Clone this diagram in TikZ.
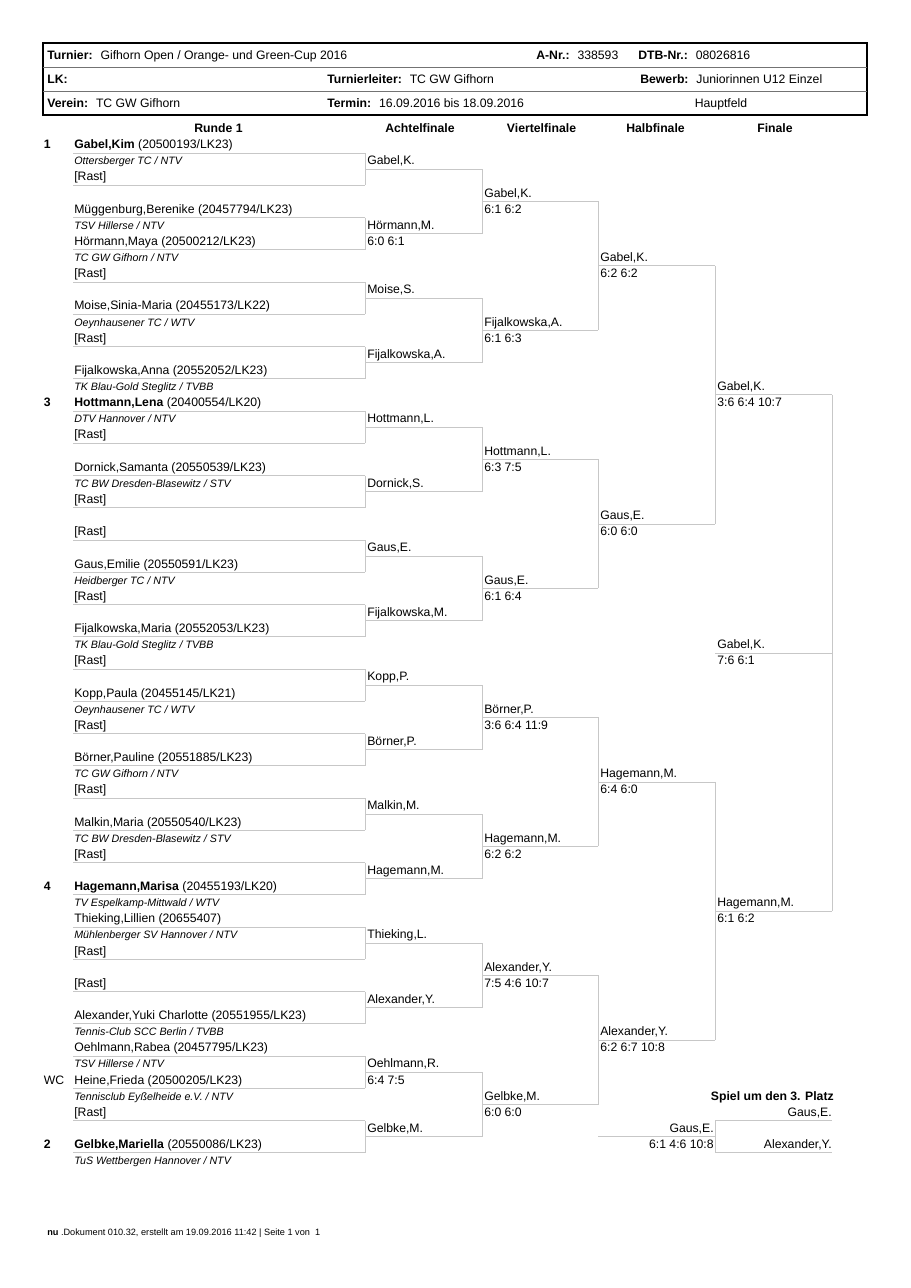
\documentclass[tikz,border=0pt]{standalone}
\usepackage{fontspec}
\setmainfont{Liberation Sans}
\usepackage{tikz}

\newcommand{\rowb}[1]{148.7+16.127*#1} % baseline of a row
\newcommand{\rowl}[1]{153+16.127*#1}   % rule under a row

\begin{document}
\begin{tikzpicture}[x=0.65415pt, y=-0.65415pt,
    hd/.style={anchor=base west, inner sep=0pt, font=\fontsize{8}{9.6}\selectfont},
    colhead/.style={anchor=base, inner sep=0pt, font=\fontsize{8}{9.6}\selectfont\bfseries},
    player/.style={anchor=base west, inner sep=0pt, font=\fontsize{8}{9.6}\selectfont},
    club/.style={anchor=base west, inner sep=0pt, font=\fontsize{7}{8.4}\selectfont\itshape},
    seed/.style={anchor=base west, inner sep=0pt, font=\fontsize{8}{9.6}\selectfont},
    rplayer/.style={anchor=base east, inner sep=0pt, font=\fontsize{8}{9.6}\selectfont},
    rule/.style={draw=black!22, line width=0.55pt},
    frame/.style={draw=black, line width=0.9pt},
    sep/.style={draw=black!55, line width=0.5pt},
]
\useasboundingbox (0,0) rectangle (910,1288);

% === HEADER ===
\draw[frame] (43,43) rectangle (867,115);
\draw[sep] (43,67) -- (867,67);
\draw[sep] (43,91) -- (867,91);

\node[hd] (turnier) at (47,59)  {\textbf{Turnier:}~ Gifhorn Open / Orange- und Green-Cup 2016};
\node[hd] (anr)     at (536,59) {\textbf{A-Nr.:}~ 338593};
\node[hd] (dtb)     at (638,59) {\textbf{DTB-Nr.:}~ 08026816};
\node[hd] (lk)      at (47,83)  {\textbf{LK:}};
\node[hd] (leiter)  at (327,83) {\textbf{Turnierleiter:}~ TC GW Gifhorn};
\node[hd] (bewerb)  at (640,83) {\textbf{Bewerb:}~ Juniorinnen U12 Einzel};
\node[hd] (verein)  at (47,107) {\textbf{Verein:}~ TC GW Gifhorn};
\node[hd] (termin)  at (327,107) {\textbf{Termin:}~ 16.09.2016 bis 18.09.2016};
\node[hd, anchor=base] (feld) at (721,107) {Hauptfeld};

% === ROUND HEADINGS ===
\node[colhead] (h0) at (218.5,132) {Runde 1};
\node[colhead] (h1) at (420,132)   {Achtelfinale};
\node[colhead] (h2) at (541.5,132) {Viertelfinale};
\node[colhead] (h3) at (655.5,132) {Halbfinale};
\node[colhead] (h4) at (775,132)   {Finale};

% === SEEDS ===
\node[seed] (s1)  at (43.5,{\rowb{0}})  {\textbf{1}};
\node[seed] (s3)  at (43.5,{\rowb{16}}) {\textbf{3}};
\node[seed] (s4)  at (43.5,{\rowb{46}}) {\textbf{4}};
\node[seed] (swc) at (43.5,{\rowb{58}}) {WC};
\node[seed] (s2)  at (43.5,{\rowb{62}}) {\textbf{2}};

% === RUNDE 1 ===
\node[player] (p0)  at (74,{\rowb{0}})  {\textbf{Gabel,Kim} (20500193/LK23)};
\node[club]   (c0)  at (74,{\rowb{1}})  {Ottersberger TC / NTV};
\node[player] (p1)  at (74,{\rowb{2}})  {[Rast]};
\node[player] (p2)  at (74,{\rowb{4}})  {Müggenburg,Berenike (20457794/LK23)};
\node[club]   (c2)  at (74,{\rowb{5}})  {TSV Hillerse / NTV};
\node[player] (p3)  at (74,{\rowb{6}})  {Hörmann,Maya (20500212/LK23)};
\node[club]   (c3)  at (74,{\rowb{7}})  {TC GW Gifhorn / NTV};
\node[player] (p4)  at (74,{\rowb{8}})  {[Rast]};
\node[player] (p5)  at (74,{\rowb{10}}) {Moise,Sinia-Maria (20455173/LK22)};
\node[club]   (c5)  at (74,{\rowb{11}}) {Oeynhausener TC / WTV};
\node[player] (p6)  at (74,{\rowb{12}}) {[Rast]};
\node[player] (p7)  at (74,{\rowb{14}}) {Fijalkowska,Anna (20552052/LK23)};
\node[club]   (c7)  at (74,{\rowb{15}}) {TK Blau-Gold Steglitz / TVBB};
\node[player] (p8)  at (74,{\rowb{16}}) {\textbf{Hottmann,Lena} (20400554/LK20)};
\node[club]   (c8)  at (74,{\rowb{17}}) {DTV Hannover / NTV};
\node[player] (p9)  at (74,{\rowb{18}}) {[Rast]};
\node[player] (p10) at (74,{\rowb{20}}) {Dornick,Samanta (20550539/LK23)};
\node[club]   (c10) at (74,{\rowb{21}}) {TC BW Dresden-Blasewitz / STV};
\node[player] (p11) at (74,{\rowb{22}}) {[Rast]};
\node[player] (p12) at (74,{\rowb{24}}) {[Rast]};
\node[player] (p13) at (74,{\rowb{26}}) {Gaus,Emilie (20550591/LK23)};
\node[club]   (c13) at (74,{\rowb{27}}) {Heidberger TC / NTV};
\node[player] (p14) at (74,{\rowb{28}}) {[Rast]};
\node[player] (p15) at (74,{\rowb{30}}) {Fijalkowska,Maria (20552053/LK23)};
\node[club]   (c15) at (74,{\rowb{31}}) {TK Blau-Gold Steglitz / TVBB};
\node[player] (p16) at (74,{\rowb{32}}) {[Rast]};
\node[player] (p17) at (74,{\rowb{34}}) {Kopp,Paula (20455145/LK21)};
\node[club]   (c17) at (74,{\rowb{35}}) {Oeynhausener TC / WTV};
\node[player] (p18) at (74,{\rowb{36}}) {[Rast]};
\node[player] (p19) at (74,{\rowb{38}}) {Börner,Pauline (20551885/LK23)};
\node[club]   (c19) at (74,{\rowb{39}}) {TC GW Gifhorn / NTV};
\node[player] (p20) at (74,{\rowb{40}}) {[Rast]};
\node[player] (p21) at (74,{\rowb{42}}) {Malkin,Maria (20550540/LK23)};
\node[club]   (c21) at (74,{\rowb{43}}) {TC BW Dresden-Blasewitz / STV};
\node[player] (p22) at (74,{\rowb{44}}) {[Rast]};
\node[player] (p23) at (74,{\rowb{46}}) {\textbf{Hagemann,Marisa} (20455193/LK20)};
\node[club]   (c23) at (74,{\rowb{47}}) {TV Espelkamp-Mittwald / WTV};
\node[player] (p24) at (74,{\rowb{48}}) {Thieking,Lillien (20655407)};
\node[club]   (c24) at (74,{\rowb{49}}) {Mühlenberger SV Hannover / NTV};
\node[player] (p25) at (74,{\rowb{50}}) {[Rast]};
\node[player] (p26) at (74,{\rowb{52}}) {[Rast]};
\node[player] (p27) at (74,{\rowb{54}}) {Alexander,Yuki Charlotte (20551955/LK23)};
\node[club]   (c27) at (74,{\rowb{55}}) {Tennis-Club SCC Berlin / TVBB};
\node[player] (p28) at (74,{\rowb{56}}) {Oehlmann,Rabea (20457795/LK23)};
\node[club]   (c28) at (74,{\rowb{57}}) {TSV Hillerse / NTV};
\node[player] (p29) at (74,{\rowb{58}}) {Heine,Frieda (20500205/LK23)};
\node[club]   (c29) at (74,{\rowb{59}}) {Tennisclub Eyßelheide e.V. / NTV};
\node[player] (p30) at (74,{\rowb{60}}) {[Rast]};
\node[player] (p31) at (74,{\rowb{62}}) {\textbf{Gelbke,Mariella} (20550086/LK23)};
\node[club]   (c31) at (74,{\rowb{63}}) {TuS Wettbergen Hannover / NTV};

% === ACHTELFINALE ===
\node[player] (af0)  at (367,{\rowb{1}})  {Gabel,K.};
\node[player] (af1)  at (367,{\rowb{5}})  {Hörmann,M.};
\node[player] (af1s) at (367,{\rowb{6}})  {6:0 6:1};
\node[player] (af2)  at (367,{\rowb{9}})  {Moise,S.};
\node[player] (af3)  at (367,{\rowb{13}}) {Fijalkowska,A.};
\node[player] (af4)  at (367,{\rowb{17}}) {Hottmann,L.};
\node[player] (af5)  at (367,{\rowb{21}}) {Dornick,S.};
\node[player] (af6)  at (367,{\rowb{25}}) {Gaus,E.};
\node[player] (af7)  at (367,{\rowb{29}}) {Fijalkowska,M.};
\node[player] (af8)  at (367,{\rowb{33}}) {Kopp,P.};
\node[player] (af9)  at (367,{\rowb{37}}) {Börner,P.};
\node[player] (af10) at (367,{\rowb{41}}) {Malkin,M.};
\node[player] (af11) at (367,{\rowb{45}}) {Hagemann,M.};
\node[player] (af12) at (367,{\rowb{49}}) {Thieking,L.};
\node[player] (af13) at (367,{\rowb{53}}) {Alexander,Y.};
\node[player] (af14) at (367,{\rowb{57}}) {Oehlmann,R.};
\node[player] (af14s) at (367,{\rowb{58}}) {6:4 7:5};
\node[player] (af15) at (367,{\rowb{61}}) {Gelbke,M.};

% === VIERTELFINALE ===
\node[player] (vf0)  at (484,{\rowb{3}})  {Gabel,K.};
\node[player] (vf0s) at (484,{\rowb{4}})  {6:1 6:2};
\node[player] (vf1)  at (484,{\rowb{11}}) {Fijalkowska,A.};
\node[player] (vf1s) at (484,{\rowb{12}}) {6:1 6:3};
\node[player] (vf2)  at (484,{\rowb{19}}) {Hottmann,L.};
\node[player] (vf2s) at (484,{\rowb{20}}) {6:3 7:5};
\node[player] (vf3)  at (484,{\rowb{27}}) {Gaus,E.};
\node[player] (vf3s) at (484,{\rowb{28}}) {6:1 6:4};
\node[player] (vf4)  at (484,{\rowb{35}}) {Börner,P.};
\node[player] (vf4s) at (484,{\rowb{36}}) {3:6 6:4 11:9};
\node[player] (vf5)  at (484,{\rowb{43}}) {Hagemann,M.};
\node[player] (vf5s) at (484,{\rowb{44}}) {6:2 6:2};
\node[player] (vf6)  at (484,{\rowb{51}}) {Alexander,Y.};
\node[player] (vf6s) at (484,{\rowb{52}}) {7:5 4:6 10:7};
\node[player] (vf7)  at (484,{\rowb{59}}) {Gelbke,M.};
\node[player] (vf7s) at (484,{\rowb{60}}) {6:0 6:0};

% === HALBFINALE ===
\node[player] (hf0)  at (600,{\rowb{7}})  {Gabel,K.};
\node[player] (hf0s) at (600,{\rowb{8}})  {6:2 6:2};
\node[player] (hf1)  at (600,{\rowb{23}}) {Gaus,E.};
\node[player] (hf1s) at (600,{\rowb{24}}) {6:0 6:0};
\node[player] (hf2)  at (600,{\rowb{39}}) {Hagemann,M.};
\node[player] (hf2s) at (600,{\rowb{40}}) {6:4 6:0};
\node[player] (hf3)  at (600,{\rowb{55}}) {Alexander,Y.};
\node[player] (hf3s) at (600,{\rowb{56}}) {6:2 6:7 10:8};

% === FINALE ===
\node[player] (f0)  at (717,{\rowb{15}}) {Gabel,K.};
\node[player] (f0s) at (717,{\rowb{16}}) {3:6 6:4 10:7};
\node[player] (f1)  at (717,{\rowb{47}}) {Hagemann,M.};
\node[player] (f1s) at (717,{\rowb{48}}) {6:1 6:2};
\node[player] (win)  at (717,{\rowb{31}}) {Gabel,K.};
\node[player] (wins) at (717,{\rowb{32}}) {7:6 6:1};

% === BRACKET RULES ===
\foreach \k in {0,...,31}{
    \coordinate (a0-\k) at (73,{\rowl{2*\k}});
    \coordinate (b0-\k) at (365,{\rowl{2*\k}});
    \draw[rule] (a0-\k) -- (b0-\k);
}
\foreach \L/\xa/\xb/\n in {1/365/482/15, 2/482/598/7, 3/598/715/3, 4/715/832/1}{
    \foreach \j in {0,...,\n}{
        \pgfmathtruncatemacro\r{2^(\L+1)*\j+2^\L-1}
        \coordinate (a\L-\j) at (\xa,{\rowl{\r}});
        \coordinate (b\L-\j) at (\xb,{\rowl{\r}});
        \draw[rule] (a\L-\j) -- (b\L-\j);
    }
}
\coordinate (a5-0) at (715,{\rowl{31}});
\coordinate (b5-0) at (832,{\rowl{31}});
\draw[rule] (a5-0) -- (b5-0);
\foreach \L/\n in {1/15, 2/7, 3/3, 4/1, 5/0}{
    \foreach \j in {0,...,\n}{
        \pgfmathtruncatemacro\p{\L-1}
        \pgfmathtruncatemacro\u{2*\j}
        \pgfmathtruncatemacro\v{2*\j+1}
        \draw[rule] (b\p-\u) -- (b\p-\v);
    }
}

% === SPIEL UM DEN 3. PLATZ ===
\node[rplayer, font=\fontsize{8}{9.6}\selectfont\bfseries] (p3head) at (834,{\rowb{59}}) {Spiel um den 3. Platz};
\node[rplayer] (p3a)   at (832,{\rowb{60}}) {Gaus,E.};
\node[rplayer] (p3b)   at (832,{\rowb{62}}) {Alexander,Y.};
\node[rplayer] (p3w)   at (714,{\rowb{61}}) {Gaus,E.};
\node[rplayer] (p3ws)  at (714,{\rowb{62}}) {6:1 4:6 10:8};
\coordinate (t3a) at (715,{\rowl{60}});
\coordinate (t3ae) at (832,{\rowl{60}});
\coordinate (t3b) at (715,{\rowl{62}});
\coordinate (t3be) at (832,{\rowl{62}});
\coordinate (t3m) at (715,{\rowl{61}});
\coordinate (t3ms) at (598,{\rowl{61}});
\draw[rule] (t3a) -- (t3ae);
\draw[rule] (t3b) -- (t3be);
\draw[rule] (t3a) -- (t3b);
\draw[rule] (t3ms) -- (t3m);

% === FOOTER ===
\node[hd, font=\fontsize{6}{7.2}\selectfont] (foot) at (47,1235.5)
    {\textbf{nu} .Dokument 010.32, erstellt am 19.09.2016 11:42 | Seite 1 von~~1};

\end{tikzpicture}
\end{document}
